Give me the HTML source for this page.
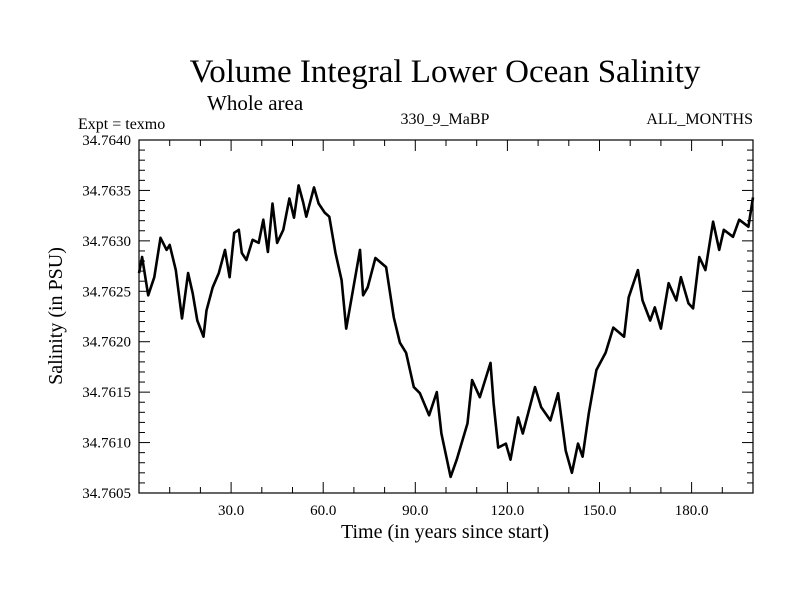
<!DOCTYPE html>
<html><head><meta charset="utf-8"><style>
body{margin:0;background:#fff;}
svg text{font-family:"Liberation Serif",serif;fill:#000;}
</style></head><body>
<svg id="chart" width="800" height="600" viewBox="0 0 800 600" xmlns="http://www.w3.org/2000/svg">
<rect width="800" height="600" fill="#fff"/>
<text x="445" y="82" font-size="33" text-anchor="middle">Volume Integral Lower Ocean Salinity</text>
<text x="207" y="110" font-size="21">Whole area</text>
<text x="78" y="129" font-size="16">Expt = texmo</text>
<text x="445" y="124" font-size="16" text-anchor="middle">330_9_MaBP</text>
<text x="753" y="124" font-size="16" text-anchor="end">ALL_MONTHS</text>
<text x="445" y="538" font-size="20" text-anchor="middle">Time (in years since start)</text>
<text transform="translate(62,316) rotate(-90)" font-size="20" text-anchor="middle">Salinity (in PSU)</text>
<g id="axes"></g>
<path id="series" fill="none" stroke="#000" stroke-width="2.6" stroke-linejoin="round"/>
<rect x="139" y="140" width="614" height="353" fill="none" stroke="#000" stroke-width="1.2"/>
</svg>
<script>
const years=[0,1,3,5,7,9,10,12,14,16,17.5,19,21,22,24,26,28,29.5,31,32.5,33.5,35,37,39,40.5,42,43.5,45,47,49,50.5,52,53.5,54.5,57,58.5,60.5,62,64,66,67.5,69.5,72,73,74.5,77,80.5,83,85,87,89.5,91.5,94.5,97,98.5,101.5,103.5,107,108.5,111,114.5,115.5,117,119.5,121,123.5,125,129,131,134,136.5,139,141,143,144.5,146.5,149,152,154.5,158,159.5,162.5,164,166.5,168,170,172.5,175,176.5,179,180.5,182.5,184.5,187,189,190.5,193.5,195.5,198.5,200];
const salinity=[34.76268,34.76284,34.76246,34.76264,34.76303,34.76291,34.76296,34.76271,34.76223,34.76268,34.76248,34.76221,34.76205,34.76231,34.76254,34.76268,34.76291,34.76264,34.76308,34.76311,34.76288,34.76281,34.76301,34.76298,34.76321,34.76289,34.76337,34.76298,34.76311,34.76342,34.76323,34.76355,34.76338,34.76324,34.76353,34.76337,34.76328,34.76324,34.76288,34.76261,34.76213,34.76248,34.76291,34.76246,34.76254,34.76283,34.76274,34.76224,34.76199,34.76189,34.76155,34.76149,34.76127,34.76150,34.76109,34.76066,34.76083,34.76119,34.76162,34.76145,34.76179,34.76139,34.76095,34.76099,34.76083,34.76125,34.76109,34.76155,34.76135,34.76122,34.76149,34.76092,34.76070,34.76099,34.76086,34.76129,34.76172,34.76189,34.76214,34.76205,34.76244,34.76271,34.76241,34.76221,34.76234,34.76213,34.76258,34.76241,34.76264,34.76238,34.76233,34.76284,34.76271,34.76319,34.76291,34.76311,34.76304,34.76321,34.76314,34.76343];
const xTicks=[30,60,90,120,150,180];
const xTickLabels=["30.0","60.0","90.0","120.0","150.0","180.0"];
const yTicks=[34.7605,34.7610,34.7615,34.7620,34.7625,34.7630,34.7635,34.7640];
const yTickLabels=["34.7605","34.7610","34.7615","34.7620","34.7625","34.7630","34.7635","34.7640"];
const L=139,R=753,T=140,B=493,X0=0,X1=200,Y0=34.7605,Y1=34.7640;
const sx=v=>L+(v-X0)/(X1-X0)*(R-L);
const sy=v=>B-(v-Y0)/(Y1-Y0)*(B-T);
const NS="http://www.w3.org/2000/svg";
const ax=document.getElementById('axes');
function ln(x1,y1,x2,y2,name){const l=document.createElementNS(NS,'line');
l.setAttribute('x1',x1);l.setAttribute('y1',y1);l.setAttribute('x2',x2);l.setAttribute('y2',y2);
l.setAttribute('stroke','#000');l.setAttribute('stroke-width','1');


ax.appendChild(l);}
for(let v=10;v<200;v+=10){const x=sx(v);const len=(v%30===0)?11:6;
ln(x,B,x,B-len,'x-tick');ln(x,T,x,T+len,'x-tick-top');}
for(let i=1;i<35;i++){const v=Y0+i*0.0001;const y=sy(v);const len=(i%5===0)?11:6;
ln(L,y,L+len,y,'y-tick');ln(R,y,R-len,y,'y-tick-right');}
xTicks.forEach((v,i)=>{const t=document.createElementNS(NS,'text');
t.setAttribute('x',sx(v));t.setAttribute('y',B+22);t.setAttribute('font-size','15');t.setAttribute('text-anchor','middle');
t.textContent=xTickLabels[i];


ax.appendChild(t);});
yTicks.forEach((v,i)=>{const t=document.createElementNS(NS,'text');
t.setAttribute('x',131);t.setAttribute('y',sy(v)+5);t.setAttribute('font-size','15');t.setAttribute('text-anchor','end');
t.textContent=yTickLabels[i];


ax.appendChild(t);});
document.getElementById('series').setAttribute('d',years.map((y,i)=>(i?'L':'M')+sx(y).toFixed(1)+','+sy(salinity[i]).toFixed(1)).join(''));
</script>
</body></html>
